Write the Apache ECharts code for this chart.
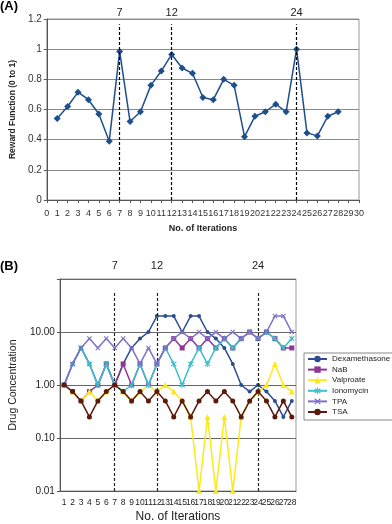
<!DOCTYPE html>
<html><head><meta charset="utf-8">
<script src="https://cdn.jsdelivr.net/npm/echarts@6/dist/echarts.min.js"></script>
<style>html,body{margin:0;padding:0;background:#fff}#c{width:392px;height:524px}</style>
</head><body><div id="c"></div>
<script>
// ---- data ----
const iterations = [1,2,3,4,5,6,7,8,9,10,11,12,13,14,15,16,17,18,19,20,21,22,23,24,25,26,27,28];
const reward = [0.54,0.62,0.715,0.665,0.57,0.39,0.985,0.52,0.585,0.76,0.855,0.965,0.875,0.84,0.68,0.665,0.80,0.76,0.42,0.555,0.585,0.635,0.585,1.0,0.445,0.425,0.555,0.585];
const markIters = [7,12,24];
const drugNames = ['Dexamethasone','NaB','Valproate','Ionomycin','TPA','TSA'];
const dexamethasone = [1,2.5,5,2.5,1,2.5,1,2.5,5,7.5,10,20,20,20,10,20,20,10,7.5,5,2.5,1,0.75,1,0.75,0.5,0.25,0.5];
const nab = [1,0.75,0.5,0.75,1,2.5,1,2.5,1,2.5,1,2.5,5,7.5,5,7.5,5,7.5,5,7.5,5,7.5,10,7.5,10,7.5,5,5];
const valproate = [1,0.75,0.5,0.75,0.5,0.75,1,0.75,0.5,0.75,1,0.75,1,0.75,0.5,0.25,0.01,0.25,0.01,0.25,0.01,0.25,0.5,0.75,1,2.5,1,0.75];
const ionomycin = [1,2.5,5,2.5,1,2.5,1,0.75,1,2.5,1,2.5,5,2.5,1,2.5,5,2.5,5,7.5,5,7.5,10,7.5,10,7.5,5,7.5];
const tpa = [1,2.5,5,7.5,5,7.5,5,7.5,5,2.5,5,2.5,5,7.5,10,7.5,10,7.5,10,7.5,10,7.5,10,7.5,10,20,20,10];
const tsa = [1,0.75,0.5,0.25,0.5,0.75,1,0.75,0.5,0.75,0.5,0.75,0.5,0.25,0.5,0.25,0.5,0.75,0.5,0.75,0.5,0.25,0.5,0.75,0.5,0.25,0.5,0.25];

// ---- styles ----
const FONT = 'Liberation Sans, Arial, sans-serif';
const xPath = 'path://M1.5,0 L5,3.5 L8.5,0 L10,1.5 L6.5,5 L10,8.5 L8.5,10 L5,6.5 L1.5,10 L0,8.5 L3.5,5 L0,1.5 Z';
const astPath = 'path://M1.5,0 L5,3.5 L8.5,0 L10,1.5 L6.5,5 L10,8.5 L8.5,10 L5,6.5 L1.5,10 L0,8.5 L3.5,5 L0,1.5 Z M4.3,-1 L5.7,-1 L5.7,11 L4.3,11 Z';
const drugStyles = [
  {color:'#2C4E8E', symbol:'circle', size:4},
  {color:'#8E3596', symbol:'rect', size:5},
  {color:'#FFE81A', symbol:'triangle', size:6},
  {color:'#3BBFCF', symbol:astPath, size:6},
  {color:'#8070C9', symbol:xPath, size:5},
  {color:'#5B1A0C', symbol:'circle', size:5}
];
const drugData = [dexamethasone, nab, valproate, ionomycin, tpa, tsa];
const cats = iterations.map(String);

const chart = echarts.init(document.getElementById('c'), null, {renderer:'canvas'});

const topMark = {
  silent:true, symbol:'none',
  lineStyle:{type:[3,2], color:'#000', width:1.2},
  label:{show:true, position:'end', distance:6, fontSize:11, color:'#222', fontFamily:FONT, formatter:p=>p.data.name},
  data: markIters.map(v=>[{coord:[v,0], name:String(v)},{coord:[v,1.165]}])
};
const botMark = {
  silent:true, symbol:'none',
  lineStyle:{type:[3,2], color:'#222', width:1.2},
  label:{show:true, position:'end', distance:21, fontSize:11, color:'#222', fontFamily:FONT, formatter:p=>p.data.name},
  data: markIters.map(v=>[{coord:[String(v),0.01], name:String(v)},{coord:[String(v),55]}])
};

const series = [{
  type:'line', xAxisIndex:0, yAxisIndex:0,
  data: iterations.map((it,i)=>[it, reward[i]]),
  symbol:'diamond', symbolSize:7,
  itemStyle:{color:'#1F4E8C'}, lineStyle:{color:'#1F4E8C', width:1.5},
  markLine: topMark, z:3
}];
drugNames.forEach((n,k)=>{
  const s = drugStyles[k];
  series.push({
    name:n, type:'line', xAxisIndex:1, yAxisIndex:1,
    data: drugData[k],
    symbol:s.symbol, symbolSize:s.size,
    itemStyle:{color:s.color}, lineStyle:{color:s.color, width:1.5},
    z:3+k,
    markLine: k===0 ? botMark : undefined
  });
});

chart.setOption({
  animation:false,
  backgroundColor:'#fff',
  textStyle:{fontFamily:FONT},
  graphic:[
    {type:'text', left:0, top:0, style:{text:'(A)', font:'bold 13px '+FONT, fill:'#000'}},
    {type:'text', left:0, top:260, style:{text:'(B)', font:'bold 13px '+FONT, fill:'#000'}}
  ],
  legend:{
    data:drugNames, orient:'vertical', left:304, top:353,
    padding:[2,3,4,3], itemGap:2.6, itemWidth:19, itemHeight:8,
    borderColor:'#888', borderWidth:1, backgroundColor:'#fff',
    textStyle:{fontSize:8, color:'#222', fontFamily:FONT}
  },
  grid:[
    {left:36, top:19, width:323, height:181, show:true, borderColor:'#999', borderWidth:1},
    {left:45, top:279, width:251, height:218, show:true, borderColor:'#999', borderWidth:1}
  ],
  xAxis:[
    {gridIndex:0, type:'value', min:0, max:30, interval:1,
     axisLine:{lineStyle:{color:'#555'}}, axisTick:{length:3, lineStyle:{color:'#555'}},
     axisLabel:{fontSize:9, color:'#333', margin:9, fontFamily:FONT},
     splitLine:{show:false},
     name:'No. of Iterations', nameLocation:'middle', nameGap:24,
     nameTextStyle:{fontSize:9, fontWeight:'bold', color:'#222', fontFamily:FONT}},
    {gridIndex:1, type:'category', data:cats, boundaryGap:true,
     axisLine:{lineStyle:{color:'#555'}}, axisTick:{length:3, lineStyle:{color:'#555'}},
     axisLabel:{fontSize:8.5, color:'#222', margin:7, interval:0, fontFamily:FONT},
     name:'No. of Iterations', nameLocation:'middle', nameGap:20,
     nameTextStyle:{fontSize:12, color:'#222', fontFamily:FONT}}
  ],
  yAxis:[
    {gridIndex:0, type:'value', min:0, max:1.2, interval:0.2,
     axisLine:{show:true, lineStyle:{color:'#555'}}, axisTick:{show:true, length:3, lineStyle:{color:'#555'}},
     axisLabel:{fontSize:10, color:'#333', margin:5, fontFamily:FONT},
     splitLine:{lineStyle:{color:'#8a8a8a', width:1}},
     name:'Reward Function (0 to 1)', nameLocation:'middle', nameGap:27,
     nameTextStyle:{fontSize:8.5, fontWeight:'bold', color:'#222', fontFamily:FONT}},
    {gridIndex:1, type:'log', logBase:10, min:0.01, max:100,
     axisLine:{show:true, lineStyle:{color:'#555'}}, axisTick:{show:true, length:3, lineStyle:{color:'#555'}},
     axisLabel:{fontSize:10, color:'#222', margin:5, fontFamily:FONT,
       formatter:v=> v>=100 ? '' : Number(v).toFixed(2)},
     splitLine:{lineStyle:{color:'#666', width:1}},
     name:'Drug Concentration', nameLocation:'middle', nameGap:36,
     nameTextStyle:{fontSize:10.5, color:'#222', fontFamily:FONT}}
  ],
  series
});
</script></body></html>
